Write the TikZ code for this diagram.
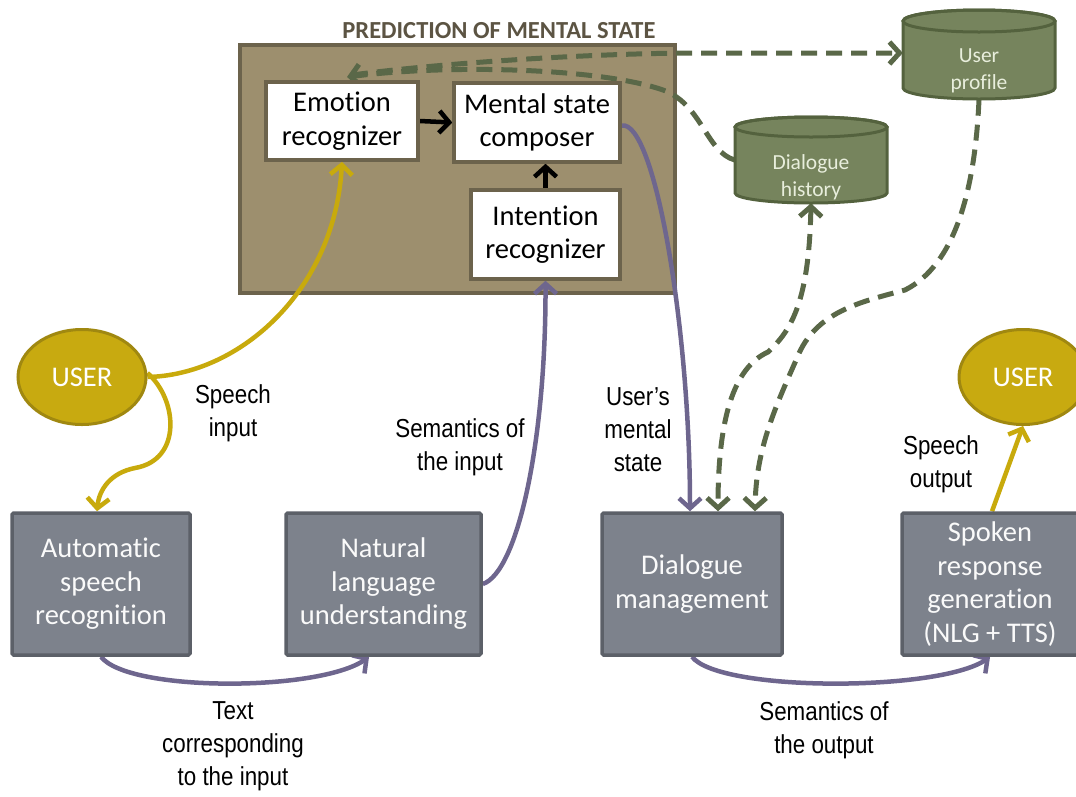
\documentclass[tikz,border=0pt]{standalone}
\usepackage{fontspec}
\setmainfont{Carlito}[Ligatures={NoCommon}]
\newfontfamily\lblfont[FakeStretch=0.86]{Liberation Sans}
\usetikzlibrary{arrows.meta,shapes.geometric}
\pgfdeclarelayer{bg}
\pgfdeclarelayer{conn}
\pgfsetlayers{bg,conn,main}
\definecolor{brownfill}{RGB}{157,143,110}
\definecolor{brownline}{RGB}{108,99,76}
\definecolor{titlecol}{RGB}{92,84,67}
\definecolor{grayfill}{RGB}{125,130,140}
\definecolor{grayline}{RGB}{92,96,104}
\definecolor{cylfill}{RGB}{118,132,93}
\definecolor{cylline}{RGB}{84,98,62}
\definecolor{cyltext}{RGB}{232,238,220}
\definecolor{dashcol}{RGB}{90,104,72}
\definecolor{userfill}{RGB}{200,170,16}
\definecolor{userline}{RGB}{160,136,16}
\definecolor{yel}{RGB}{200,170,12}
\definecolor{purp}{RGB}{110,102,142}
\newcommand\drawcyl[5]{%
  \filldraw[draw=cylline, fill=cylfill, line width=3pt] ({#1-#4},#2) -- ({#1-#4},#3)
    arc[start angle=180,end angle=360,x radius=#4pt,y radius=#5pt] -- ({#1+#4},#2)
    arc[start angle=0,end angle=180,x radius=#4pt,y radius=#5pt] -- cycle;
  \draw[draw=cylline, line width=3pt] (#1,#2) ellipse[x radius=#4pt,y radius=#5pt];}
\begin{document}
\begin{tikzpicture}[x=1pt,y=-1pt,
  boxfont/.style={font=\fontsize{28.5}{33.5}\selectfont},
  graybox/.style={draw=grayline, fill=grayfill, line width=3.5pt, rounded corners=1.5pt,
    text=white!96!gray, boxfont, align=center, inner sep=0pt},
  whitebox/.style={draw=brownline, fill=white, line width=3.5pt, boxfont, align=center, inner sep=0pt},
  userstyle/.style={ellipse, draw=userline, fill=userfill, line width=3pt, text=white,
    boxfont, inner sep=0pt, minimum width=128pt, minimum height=95pt},
  cylbox/.style={inner sep=0pt},
  cyllabel/.style={text=cyltext, font=\fontsize{21.5}{27}\selectfont, align=center},
  lbl/.style={font=\lblfont\fontsize{26}{33}\selectfont, align=center},
  tipv/.style={-{Straight Barb[length=10pt,width=22pt]}},
  purparrow/.style={draw=purp, line width=4.5pt, tipv},
  yelarrow/.style={draw=yel, line width=4.5pt, tipv},
  blackarrow/.style={draw=black, line width=4.5pt, -{Straight Barb[length=10pt,width=22pt]}},
  greendash/.style={draw=dashcol, line width=5pt, dash pattern=on 16pt off 9pt}]
\useasboundingbox (0,0) rectangle (1076,796);

% prediction box
\begin{pgfonlayer}{bg}
\node[draw=brownline, fill=brownfill, line width=3.5pt, minimum width=435pt, minimum height=248pt, inner sep=0pt] (pms) at (457.5,169) {};
\end{pgfonlayer}
\node[font=\bfseries\fontsize{24.5}{28}\selectfont, text=titlecol] (title) at (499,31) {PREDICTION OF MENTAL STATE};

% inner boxes
\node[whitebox, minimum width=152pt, minimum height=78pt] (emo) at (342,121) {Emotion\\recognizer};
\node[whitebox, minimum width=166pt, minimum height=79pt] (msc) at (537,122.5) {Mental state\\composer};
\node[whitebox, minimum width=149pt, minimum height=89pt] (intr) at (545.5,234.5) {Intention\\recognizer};

% cylinders
\drawcyl{811}{127}{193}{76}{10}
\node[cylbox, minimum width=152pt, minimum height=86pt] (dh) at (811,160) {};
\node[cyllabel] (dhtext) at (811,177) {Dialogue\\history};
\drawcyl{979}{21}{88}{76}{11}
\node[cylbox, minimum width=152pt, minimum height=89pt] (up) at (979,55) {};
\node[cyllabel] (uptext) at (979,71) {User\\profile};

% users
\node[userstyle] (userL) at (82,377) {USER};
\node[userstyle] (userR) at (1023,377) {USER};

% bottom boxes
\node[graybox, minimum width=178pt, minimum height=142pt] (asr) at (101,584) {Automatic\\speech\\recognition};
\node[graybox, minimum width=195pt, minimum height=142pt] (nlu) at (383.5,584) {Natural\\language\\understanding};
\node[graybox, minimum width=180pt, minimum height=142pt] (dm) at (692,584) {Dialogue\\management};
\node[graybox, minimum width=176pt, minimum height=142pt] (srg) at (990,584) {Spoken\\response\\generation\\(NLG + TTS)};

% labels
\node[lbl] (l1) at (233,413) {Speech\\input};
\node[lbl] (l2) at (460,447) {Semantics of\\the input};
\node[lbl] (l3) at (638,430) {User’s\\mental\\state};
\node[lbl] (l4) at (941,464) {Speech\\output};
\node[lbl] (l5) at (233,746) {Text\\corresponding\\to the input};
\node[lbl] (l6) at (824,730) {Semantics of\\the output};

% anchor coordinates
\coordinate (emoTop) at (347,77);
\coordinate (emoStart) at (352,75);

\begin{pgfonlayer}{conn}
% black
\draw[blackarrow] (emo.east) -- (msc.west);
\draw[blackarrow] (intr.north) -- (intr.north |- msc.south);
% yellow
\draw[yelarrow] (userL.east) .. controls (240,375) and (335,290) .. (emo.south);
\draw[yelarrow] ([yshift=4pt]userL.east) .. controls (178,400) and (182,460) .. (135,468)
   .. controls (110,473) and (99,490) .. ([xshift=-4pt]asr.north);
\draw[yelarrow] ([xshift=2pt]srg.north) -- (userR.south);
% purple
\draw[purparrow] (nlu.east) .. controls (518,572) and (546,440) .. (intr.south);
\draw[purparrow] ([yshift=-3pt]msc.east) .. controls (655,120) and (690,330) .. ([xshift=-2pt]dm.north);
\draw[purparrow] (asr.south) .. controls (128,692) and (318,692) .. (369,657);
\draw[purparrow] (dm.south) .. controls (719,692) and (938,692) .. (990,657);
% green dashed
\draw[greendash, {Straight Barb[length=10pt,width=22pt]}-{Straight Barb[length=10pt,width=22pt]}]
   (dh.south) .. controls (809,300) and (792,330) .. (768,352)
   .. controls (733,368) and (718,420) .. ([xshift=26pt]dm.north);
\draw[greendash, tipv] (up.south) .. controls (975,190) and (955,265) .. (905,290)
   .. controls (860,302) and (815,312) .. (797,358)
   .. controls (774,410) and (756,450) .. ([xshift=63pt]dm.north);
\draw[greendash, tipv] (dh.west) .. controls (706,152) and (702,104) .. (663,90)
   .. controls (600,68) and (450,64) .. (emoTop);
\draw[greendash, tipv] (emoStart) .. controls (450,62) and (600,53) .. (700,53) -- (up.west |- 0,53);
\end{pgfonlayer}
\end{tikzpicture}
\end{document}
